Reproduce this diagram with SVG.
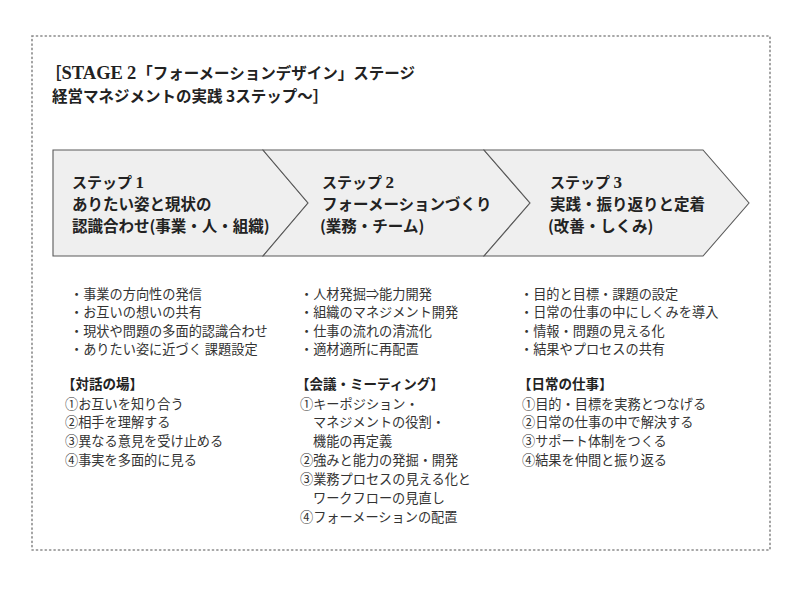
<svg xmlns="http://www.w3.org/2000/svg" width="800" height="596" viewBox="0 0 800 596">
<style>
.frame{fill:none;stroke:#8a8a8a;stroke-width:1.6;stroke-dasharray:1.2 3.2;stroke-linecap:round}
.chev{fill:#efefef;stroke:#5a5a5a;stroke-width:1.1;stroke-linejoin:miter}
.title{font-family:"Noto Sans CJK JP","Noto Sans",sans-serif;font-size:15.5px;font-weight:bold;fill:#222}
.serif{font-family:"Liberation Serif","DejaVu Serif",serif;font-weight:bold}
.step{font-family:"Noto Sans CJK JP",sans-serif;font-size:15px;font-weight:bold;fill:#222}
.head{font-family:"Noto Sans CJK JP",sans-serif;font-size:15.5px;font-weight:600;fill:#222}
.li{font-family:"Noto Sans CJK JP",sans-serif;font-size:13.2px;fill:#333}
.sub{font-family:"Noto Sans CJK JP",sans-serif;font-size:13.5px;font-weight:bold;fill:#222}
</style>
<rect class="frame" x="32" y="36" width="738" height="514"/>
<g id="title">
<text class="title" x="46" y="79"><tspan>［</tspan><tspan class="serif" font-size="18.5">STAGE</tspan><tspan class="serif" font-size="18.5" dx="4">2</tspan><tspan dx="1">「フォーメーションデザイン」ステージ</tspan></text>
<text class="title" x="52" y="102">経営マネジメントの実践 3ステップ～］</text>
</g>
<g id="connectors"></g>
<g id="step1">
<polygon class="chev" points="53,150 263,150 308,203 263,256 53,256"/>
<text class="step" x="72" y="188">ステップ <tspan class="serif" font-size="17">1</tspan></text>
<text class="head" x="72" y="210">ありたい姿と現状の</text>
<text class="head" x="72" y="232">認識合わせ(事業・人・組織)</text>
</g>
<g id="step2">
<polygon class="chev" points="263,150 484,150 530,203 484,256 263,256 308,203"/>
<text class="step" x="322" y="188">ステップ <tspan class="serif" font-size="17">2</tspan></text>
<text class="head" x="322" y="210">フォーメーションづくり</text>
<text class="head" x="320" y="232">(業務・チーム)</text>
</g>
<g id="step3">
<polygon class="chev" points="484,150 703,150 749,203 703,256 484,256 530,203"/>
<text class="step" x="550" y="188">ステップ <tspan class="serif" font-size="17">3</tspan></text>
<text class="head" x="550" y="210">実践・振り返りと定着</text>
<text class="head" x="548" y="232">(改善・しくみ)</text>
</g>
<g id="col1">
<text class="li" x="70" y="299">・事業の方向性の発信</text>
<text class="li" x="70" y="317">・お互いの想いの共有</text>
<text class="li" x="70" y="336">・現状や問題の多面的認識合わせ</text>
<text class="li" x="70" y="354">・ありたい姿に近づく 課題設定</text>
<text class="sub" x="62" y="389">【対話の場】</text>
<text class="li" x="65" y="409">①お互いを知り合う</text>
<text class="li" x="65" y="427">②相手を理解する</text>
<text class="li" x="65" y="446">③異なる意見を受け止める</text>
<text class="li" x="65" y="465">④事実を多面的に見る</text>
</g>
<g id="col2">
<text class="li" x="300" y="299">・人材発掘⇒能力開発</text>
<text class="li" x="300" y="317">・組織のマネジメント開発</text>
<text class="li" x="300" y="336">・仕事の流れの清流化</text>
<text class="li" x="300" y="354">・適材適所に再配置</text>
<text class="sub" x="296" y="389">【会議・ミーティング】</text>
<text class="li" x="300" y="409">①キーポジション・</text>
<text class="li" x="313" y="427">マネジメントの役割・</text>
<text class="li" x="313" y="446">機能の再定義</text>
<text class="li" x="300" y="465">②強みと能力の発掘・開発</text>
<text class="li" x="300" y="484">③業務プロセスの見える化と</text>
<text class="li" x="313" y="503">ワークフローの見直し</text>
<text class="li" x="300" y="522">④フォーメーションの配置</text>
</g>
<g id="col3">
<text class="li" x="520" y="299">・目的と目標・課題の設定</text>
<text class="li" x="520" y="317">・日常の仕事の中にしくみを導入</text>
<text class="li" x="520" y="336">・情報・問題の見える化</text>
<text class="li" x="520" y="354">・結果やプロセスの共有</text>
<text class="sub" x="518" y="389">【日常の仕事】</text>
<text class="li" x="522" y="409">①目的・目標を実務とつなげる</text>
<text class="li" x="522" y="427">②日常の仕事の中で解決する</text>
<text class="li" x="522" y="446">③サポート体制をつくる</text>
<text class="li" x="522" y="465">④結果を仲間と振り返る</text>
</g>
</svg>
